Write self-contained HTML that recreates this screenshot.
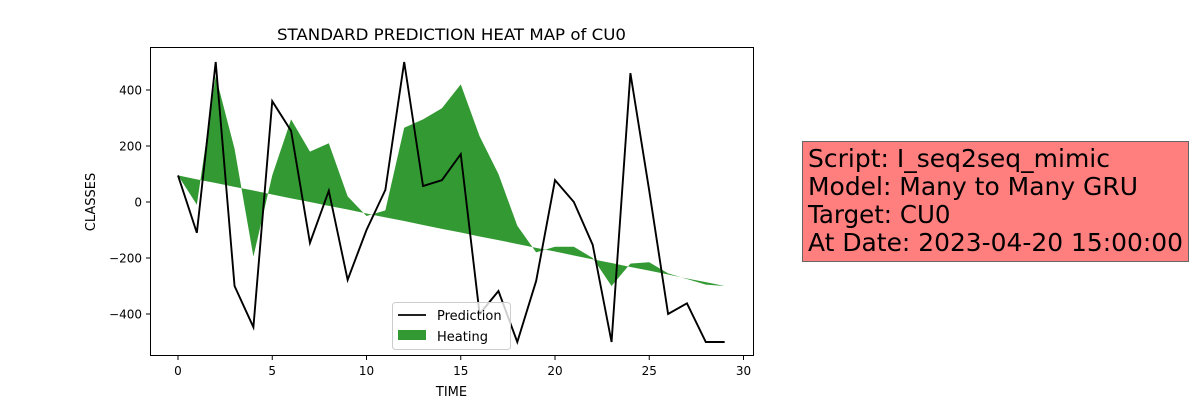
<!DOCTYPE html>
<html><head><meta charset="utf-8"><style>
body{margin:0;background:#fff;width:1202px;height:400px;overflow:hidden;font-family:"Liberation Sans","DejaVu Sans",sans-serif}
</style></head><body>
<svg id="chart" width="1202" height="400" xmlns="http://www.w3.org/2000/svg" font-family="DejaVu Sans, Liberation Sans, sans-serif">
<rect width="1202" height="400" fill="#fff"/>
<text x="451.5" y="40" font-size="16.3" text-anchor="middle" textLength="349" lengthAdjust="spacingAndGlyphs">STANDARD PREDICTION HEAT MAP of CU0</text>
<g id="plot"></g>
<rect x="150.5" y="47.5" width="603" height="308" fill="none" stroke="#000" stroke-width="1"/>
<text x="451.5" y="396" font-size="13" text-anchor="middle">TIME</text>
<text x="95" y="202" font-size="13" text-anchor="middle" transform="rotate(-90 95 202)">CLASSES</text>
<g>
<rect x="392.5" y="302.5" width="118" height="47" rx="3" fill="#fff" fill-opacity="0.8" stroke="#ccc"/>
<line x1="398" y1="315" x2="426" y2="315" stroke="#000" stroke-width="1.8"/>
<text x="437" y="320" font-size="13">Prediction</text>
<rect x="398" y="330" width="28" height="10" style="fill:#339933"/>
<text x="437" y="341" font-size="13">Heating</text>
</g>
<g>
<rect x="802.5" y="141.5" width="386" height="120" fill="#ff7f7f" stroke="#666"/>
<text x="808" y="167" font-size="24.5" textLength="302" lengthAdjust="spacingAndGlyphs">Script: I_seq2seq_mimic</text>
<text x="808" y="195" font-size="24.5" textLength="330" lengthAdjust="spacingAndGlyphs">Model: Many to Many GRU</text>
<text x="808" y="223" font-size="24.5">Target: CU0</text>
<text x="808" y="251" font-size="24.5" textLength="375" lengthAdjust="spacingAndGlyphs">At Date: 2023-04-20 15:00:00</text>
</g>
</svg>
<script>
const times=[0,1,2,3,4,5,6,7,8,9,10,11,12,13,14,15,16,17,18,19,20,21,22,23,24,25,26,27,28,29];
const prediction=[95,-110,500,-300,-447,360,254,-146,40,-278,-100,43,500,57,78,171,-400,-318,-500,-282,78,0,-153,-500,460,40,-400,-362,-500,-500];
const heating=[95,-10,450,190,-195,95,295,180,210,20,-50,-30,265,295,335,420,235,100,-85,-180,-160,-160,-200,-300,-220,-215,-255,-275,-295,-300];
const baseline=[95,81,68,54,41,27,13,0,-14,-27,-41,-55,-68,-82,-96,-109,-123,-136,-150,-164,-177,-191,-205,-218,-232,-245,-259,-273,-286,-300];
const xTicks=[0,5,10,15,20,25,30];
const yTicks=[-400,-200,0,200,400];
const NS="http://www.w3.org/2000/svg";
const X=v=>178+v*18.85;
const Y=v=>202-v*0.28;
const g=document.getElementById('plot');
function mk(t,a){const e=document.createElementNS(NS,t);for(const k in a)e.setAttribute(k,a[k]);g.appendChild(e);return e;}
let d='M'+times.map((t,i)=>X(t)+','+Y(heating[i])).join('L');
for(let i=times.length-1;i>=0;i--)d+='L'+X(times[i])+','+Y(baseline[i]);
const area=mk('path',{d:d+'Z',fill:'#008000','fill-opacity':'0.8'});


const line=mk('polyline',{points:times.map((t,i)=>X(t)+','+Y(prediction[i])).join(' '),fill:'none',stroke:'#000','stroke-width':'1.9'});


xTicks.forEach(t=>{
 const tk=mk('line',{x1:X(t),y1:356,x2:X(t),y2:360,stroke:'#000'});
 
 
 const lb=mk('text',{x:X(t),y:375,'font-size':'12','text-anchor':'middle'});
 
 
 lb.textContent=t;
});
yTicks.forEach(t=>{
 const tk=mk('line',{x1:146,y1:Y(t),x2:150,y2:Y(t),stroke:'#000'});
 
 
 const lb=mk('text',{x:142,y:Y(t)+4.5,'font-size':'12','text-anchor':'end'});
 
 
 lb.textContent=t<0?'\u2212'+(-t):t;
});
</script>
</body></html>
